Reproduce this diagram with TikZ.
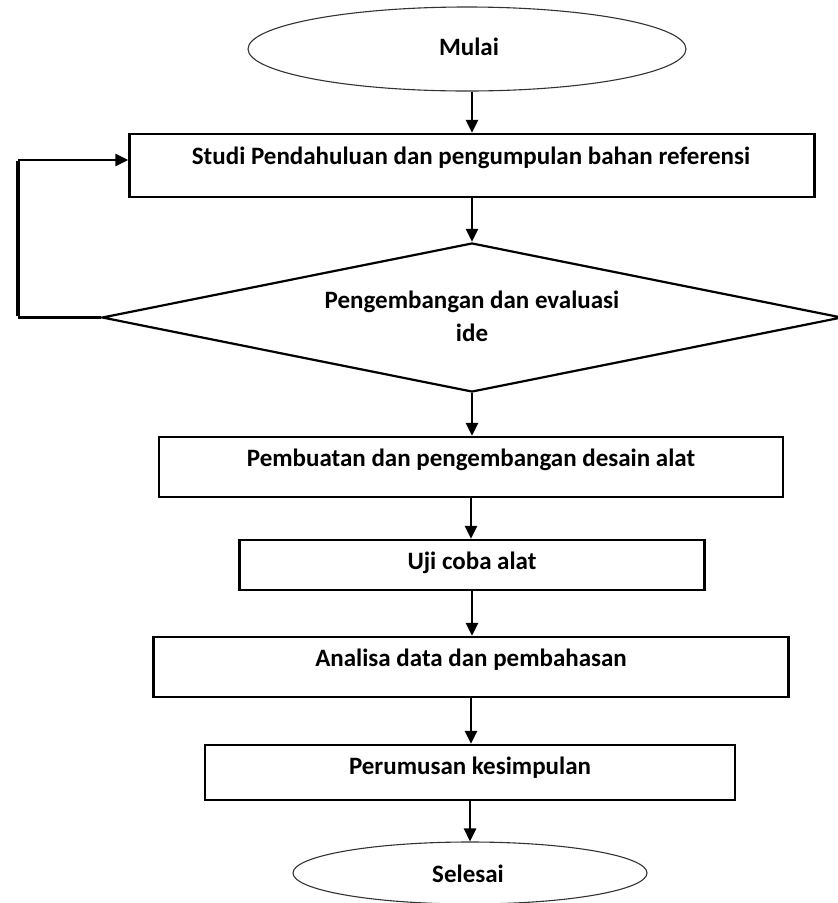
\documentclass[tikz,border=0pt]{standalone}
\usepackage{fontspec}
\setmainfont{Carlito}
\usetikzlibrary{arrows.meta,shapes.geometric,positioning}

\tikzset{
  procbox/.style={draw,line width=2.2pt,rectangle,inner sep=0pt},
  termnode/.style={draw=black!80,line width=1.1pt,ellipse,inner sep=0pt},
  decnode/.style={draw,line width=2.2pt,diamond,inner sep=0pt},
  flowline/.style={line width=2.6pt,-{Triangle[length=13pt,width=12pt]}},
  flowtext/.style={font=\fontsize{25}{33}\selectfont\bfseries,align=center,inner sep=0pt},
}

\begin{document}
\begin{tikzpicture}[x=1pt,y=1pt,yscale=-1]
\useasboundingbox (0,0) rectangle (838,903);

%Ellipse: start
\node[termnode,minimum width=438,minimum height=84] (mulai) at (467,49) {};
%Rectangle: study
\node[procbox,minimum width=685,minimum height=63] (studi) at (472,165.5) {};
%Diamond: evaluation
\node[decnode,minimum width=740,minimum height=149] (ide) at (472,317.5) {};
%Rectangle: design
\node[procbox,minimum width=624,minimum height=60] (desain) at (471,467) {};
%Rectangle: test
\node[procbox,minimum width=465,minimum height=50] (uji) at (472,565) {};
%Rectangle: analysis
\node[procbox,minimum width=635,minimum height=60] (analisa) at (471,667) {};
%Rectangle: conclusion
\node[procbox,minimum width=530,minimum height=55] (rumusan) at (470,772.5) {};
%Ellipse: end
\node[termnode,minimum width=354,minimum height=62] (selesai) at (470,873) {};

% Text Node
\node[flowtext] (mulaitext) at (469,47) {Mulai};
% Text Node
\node[flowtext] (studitext) at (471,158) {Studi Pendahuluan dan pengumpulan bahan referensi};
% Text Node
\node[flowtext] (idetext) at (472,316) {Pengembangan dan evaluasi\\ide};
% Text Node
\node[flowtext] (desaintext) at (471,460) {Pembuatan dan pengembangan desain alat};
% Text Node
\node[flowtext] (ujitext) at (472,563) {Uji coba alat};
% Text Node
\node[flowtext] (analisatext) at (471,660) {Analisa data dan pembahasan};
% Text Node
\node[flowtext] (rumusantext) at (470,768) {Perumusan kesimpulan};
% Text Node
\node[flowtext] (selesaitext) at (468,874) {Selesai};

%Straight Lines
\draw[flowline] (mulai.south -| studi.north) -- (studi.north);
\draw[flowline] (studi.south) -- (ide.north);
\draw[flowline] (ide.south) -- (ide.south |- desain.north);
\draw[flowline] (desain.south) -- (desain.south |- uji.north);
\draw[flowline] (uji.south) -- (uji.south |- analisa.north);
\draw[flowline] (analisa.south) -- (analisa.south |- rumusan.north);
\draw[flowline] (rumusan.south) -- (rumusan.south |- selesai.north);

%Feedback loop
\coordinate (loopbot) at (18,317.5);
\coordinate (looptop) at (18,160);
\draw[line width=2.4pt] (ide.west) -- (loopbot);
\draw[line width=4.4pt] ([yshift=-1.2pt]loopbot) -- ([yshift=1.2pt]looptop);
\draw[flowline,line width=2.4pt] (looptop) -- (looptop -| studi.west);

\end{tikzpicture}
\end{document}
